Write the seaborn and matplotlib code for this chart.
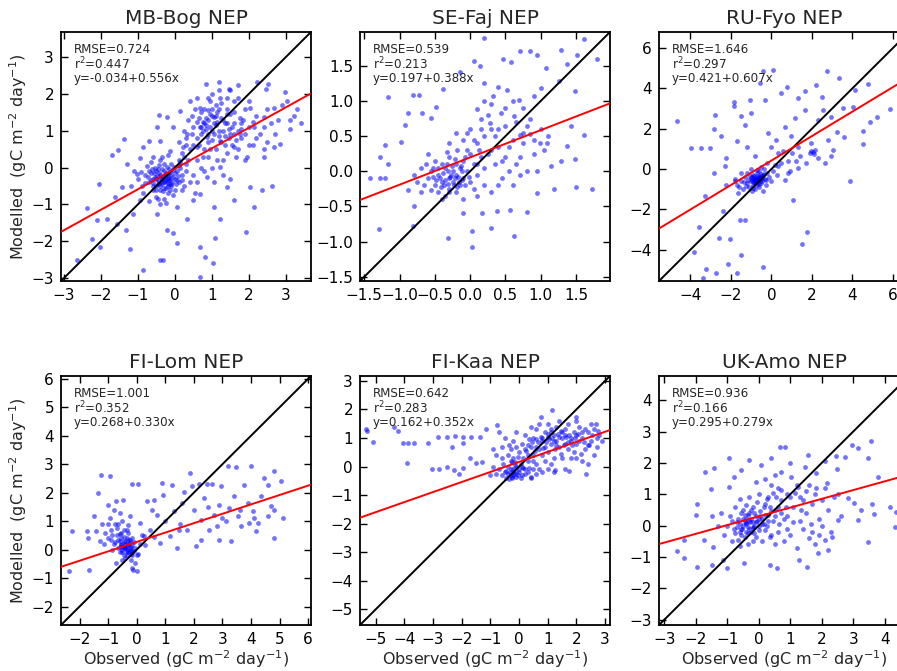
import matplotlib
matplotlib.use("Agg")
import matplotlib.pyplot as plt
from matplotlib.ticker import MultipleLocator
import seaborn as sns
import pandas as pd

# ---------------------------------------------------------------------------
# Daily NEP, observed vs modelled (gC m-2 day-1), one list of (obs, mod) per site
# ---------------------------------------------------------------------------
sites = ["MB-Bog", "SE-Faj", "RU-Fyo", "FI-Lom", "FI-Kaa", "UK-Amo"]

rmse = [0.724, 0.539, 1.646, 1.001, 0.642, 0.936]
r2 = [0.447, 0.213, 0.297, 0.352, 0.283, 0.166]
intercept = [-0.034, 0.197, 0.421, 0.268, 0.162, 0.295]
slope = [0.556, 0.388, 0.607, 0.330, 0.352, 0.279]

mb_bog_pts = [
    (-0.87, -2.77), (0.68, -2.98), (1.03, -2.6), (0.81, -2.42), (0.67, -2.15), (1.09, -1.91),
    (1.92, -1.75), (0.05, -2.04), (-0.4, -2.5), (-0.33, -2.5), (-2.65, -2.51), (-2.24, -1.93),
    (-2.02, -2.15), (-1.21, -2.2), (-1.57, -1.52), (-2.04, -0.46), (-1.7, 0.35), (-1.54, 0.49),
    (-2.38, -1.09), (-1.84, -1.39), (-1.32, -1.7), (-1.12, -1.25), (-1.37, 0.77), (-0.85, 0.55),
    (-0.43, 1.43), (-0.49, 1.09), (-0.71, 0.73), (-1.03, -0.17), (-1.43, -0.53), (-1.61, -0.8),
    (-2.1, -1.43), (-0.94, -0.89), (-0.49, -1.25), (-0.22, -1.7), (-0.04, -1.79), (0.32, -1.39),
    (0.05, -1.07), (0.5, -0.89), (0.68, -0.71), (1.05, -1.07), (1.23, -1.39), (1.59, -0.89),
    (2.04, -0.53), (2.35, -0.62), (2.62, -0.49), (2.13, -1.07), (1.41, -0.53), (0.86, -0.26),
    (1.23, 0.01), (0.84, 2.26), (1.18, 2.31), (1.46, 2.13), (1.7, 2.23), (2.23, 2.33),
    (2.53, 2.26), (2.46, 2.13), (2.98, 2.04), (3.03, 1.81), (3.21, 1.41), (3.1, 1.05),
    (2.85, 0.64), (2.67, 0.55), (2.4, 0.28), (1.95, 0.28), (1.59, 0.55), (1.77, 0.91),
    (2.13, 1.09), (2.4, 1.36), (2.67, 1.63), (2.04, 1.63), (1.59, 1.81), (1.23, 1.9),
    (0.95, 1.81), (0.68, 1.63), (0.41, 1.81), (0.14, 1.54), (-0.22, 1.36), (-0.04, 1.09),
    (0.32, 0.91), (0.68, 1.09), (1.05, 1.36), (1.41, 1.45), (0.86, 0.82), (1.23, 0.73),
    (0.59, 0.55), (0.23, 0.55), (-0.13, 0.46), (-0.4, 0.73),
    (-0.6, -0.3), (-0.5, -0.5), (-0.4, -0.2), (-0.3, -0.4), (-0.2, -0.3), (-0.1, -0.2),
    (-0.3, -0.1), (-0.5, -0.1), (-0.7, -0.4), (-0.4, -0.6), (-0.2, -0.5), (0.0, -0.3),
    (-0.1, -0.5), (-0.6, -0.6), (-0.8, -0.2), (-0.35, -0.3), (-0.25, -0.15), (-0.45, -0.35),
    (-0.15, -0.05), (0.05, -0.1), (-0.55, 0.0), (-0.3, 0.1), (-0.65, -0.15), (-0.2, -0.7),
    (0.1, -0.4), (-0.9, -0.5), (-0.4, 0.2), (-0.1, 0.1), (0.15, 0.0), (-0.75, 0.05),
    (-0.5, -0.8), (0.0, -0.6), (-0.35, -0.45), (-0.25, -0.55), (-0.15, -0.35), (-0.55, -0.25),
    (-0.45, -0.05), (-0.05, -0.25), (0.2, -0.2), (-0.85, -0.7), (-1.0, -0.3), (-0.3, -0.85),
    (0.1, 0.2), (-0.6, 0.3), (-0.2, 0.35), (0.3, -0.1), (-0.7, -0.9), (0.25, 0.3),
    (-1.1, -0.1), (-0.4, -1.0), (-0.32, -0.22), (-0.42, -0.42), (-0.22, -0.42), (-0.12, -0.12),
    (-0.38, -0.28), (-0.28, -0.35), (-0.18, -0.25), (-0.48, -0.22), (-0.58, -0.42), (-0.08, -0.38),
    (0.02, -0.45), (-0.62, -0.05), (-0.72, -0.25), (-0.52, -0.62), (-0.32, -0.65), (-0.12, -0.62),
    (0.08, -0.22), (-0.02, 0.02), (-0.22, 0.02), (-0.42, 0.08), (-0.82, -0.42), (-0.92, -0.12),
    (0.18, -0.35), (0.12, 0.08), (-0.35, 0.3), (-0.65, 0.15), (-0.05, -0.75), (-0.45, -0.85),
    (-0.25, -0.95), (0.25, -0.5), (-1.2, -0.5), (-1.3, 0.1), (-0.95, 0.25), (0.35, 0.2),
    (-0.36, -0.38), (-0.26, -0.26), (-0.16, -0.44), (-0.46, -0.46), (-0.56, -0.16), (-0.06, -0.06),
    (-0.34, -0.04), (-0.14, -0.3), (-0.44, -0.14), (-0.24, -0.36), (-0.64, -0.34), (0.06, -0.34),
    (-0.3, -0.55), (-0.5, -0.3), (-0.2, -0.2), (-0.4, -0.5), (-0.1, -0.45), (0.0, -0.15),
    (-0.6, -0.5), (-0.7, -0.1),
    (0.4, 0.5), (0.6, 0.8), (0.8, 1.2), (1.0, 1.4), (1.2, 1.0), (0.9, 0.7), (0.7, 1.5),
    (1.1, 1.7), (1.3, 1.3), (1.5, 0.9), (1.4, 1.6), (1.6, 1.2), (1.8, 0.8), (2.0, 1.1),
    (1.7, 1.9), (0.5, 1.1), (0.3, 0.8), (0.2, 0.4), (0.6, 0.2), (0.9, 0.3), (1.1, 0.5),
    (1.3, 0.2), (0.5, -0.2), (0.8, -0.1), (1.0, 0.0), (1.4, 0.4), (1.7, 0.5), (2.1, 0.6),
    (2.3, 0.9), (2.2, 1.4), (1.9, 1.6), (0.9, 1.9), (1.2, 2.1), (0.75, 1.0), (0.85, 1.35),
    (0.95, 1.1), (1.05, 0.9), (1.15, 1.25), (0.65, 0.6), (0.45, 0.9), (0.35, 1.3), (0.25, 1.0),
    (0.1, 0.7), (1.25, 0.7), (1.45, 1.05), (1.55, 0.6), (1.65, 0.3), (1.85, 1.3), (2.4, 0.5),
    (2.6, 1.2), (2.7, 0.9), (0.55, 1.6), (1.0, 1.6), (0.8, 0.5), (0.7, 0.0), (1.3, -0.2),
    (1.9, 0.2), (0.3, 0.1), (0.15, 0.15), (0.4, -0.4), (2.0, 1.8), (1.5, 1.45), (1.1, 1.15),
    (0.9, 0.9), (0.6, 1.25), (1.35, 0.85), (2.5, 1.6), (3.1, 1.3), (0.2, -0.6), (0.55, -0.7),
    (0.5, 0.6), (0.7, 0.9), (0.9, 1.3), (1.0, 1.0), (1.1, 1.4), (1.2, 1.6), (1.3, 1.0),
    (1.4, 1.2), (1.6, 1.5), (1.7, 1.0), (1.8, 1.2), (1.9, 0.9), (2.0, 0.6), (2.2, 0.8),
    (2.4, 1.1), (2.5, 0.7), (2.8, 1.3), (2.9, 1.7), (3.3, 1.6), (3.4, 1.2), (0.8, 1.6),
    (0.6, 1.9), (1.0, 2.0), (1.4, 1.9), (1.5, 2.1), (0.75, 0.3), (0.95, 0.5), (1.15, 0.2),
    (1.35, 0.6), (1.6, 0.9), (1.05, -0.4), (1.5, -0.3), (0.6, -0.4), (0.3, 0.6), (0.45, 1.4),
    (1.25, 1.75), (0.85, 1.05), (0.65, 1.35), (1.75, 1.35), (2.1, 1.25),
    (0.85, 1.15), (0.95, 1.45), (1.05, 1.2), (1.15, 1.5), (0.75, 1.25), (1.25, 1.35),
    (0.9, 1.55), (1.35, 1.2), (1.45, 0.8), (1.55, 1.1), (0.7, 1.1), (1.0, 0.75), (1.2, 0.85),
    (1.65, 0.75), (1.8, 1.05),
]

se_faj_pts = [
    (0.2, 1.89), (0.71, 1.71), (0.85, 1.71), (1.28, 1.72), (1.51, 1.66), (1.61, 1.88),
    (1.8, 1.6), (0.05, 1.57), (0.46, 1.59), (0.58, 1.55), (0.95, 1.65), (1.07, 1.47),
    (1.37, 1.52), (-0.14, 1.41), (0.14, 1.49), (-0.38, 1.17), (-1.16, 1.06), (-0.81, 1.08),
    (-0.73, 1.08), (-0.88, 0.83), (-0.68, 0.83), (-0.55, 0.76), (-0.92, 0.66), (-0.49, 0.92),
    (-1.2, 0.37), (-0.98, 0.42), (-1.28, 0.21), (-1.17, 0.1), (-1.42, -0.09), (-1.27, -0.09),
    (-1.21, -0.1), (-0.88, -0.26), (-0.8, -0.49), (-0.81, -0.78), (-1.29, -0.82), (-0.32, -0.95),
    (0.03, -1.08), (0.02, -0.85), (-0.1, -0.59), (0.17, -0.59), (0.3, -0.81), (0.38, -0.57),
    (0.62, -0.92), (0.57, -0.55), (0.8, -0.58), (0.94, -0.31), (1.18, -0.25), (1.5, -0.22),
    (1.73, -0.25), (1.61, 0.52), (1.37, 0.36), (1.48, 0.18), (1.28, 0.14), (1.15, 0.07),
    (1.43, 0.64), (1.09, 0.4), (0.99, 0.4), (0.85, 0.53), (0.71, 0.52), (0.9, 1.07),
    (1.0, 1.18), (1.26, 1.28), (1.48, 1.14), (0.69, 1.02), (0.52, 1.16), (0.33, 1.07),
    (0.19, 1.26), (0.43, 0.83), (0.62, 0.78), (0.28, 0.69), (0.09, 0.88),
    (-0.3, -0.1), (-0.2, -0.05), (-0.4, -0.15), (-0.1, -0.1), (-0.25, 0.0), (-0.35, 0.05),
    (-0.45, -0.05), (-0.15, -0.2), (-0.5, -0.2), (-0.3, -0.25), (-0.05, 0.0), (0.0, -0.15),
    (-0.2, 0.1), (-0.4, 0.1), (-0.55, 0.0), (-0.6, -0.1), (-0.1, 0.15), (0.05, 0.1),
    (-0.3, 0.2), (-0.45, -0.3), (-0.2, -0.3), (-0.65, -0.2), (0.1, -0.05), (-0.35, -0.35),
    (-0.25, -0.15), (-0.15, 0.05), (-0.5, 0.15), (0.15, 0.2), (-0.7, 0.05), (0.0, 0.25),
    (-0.28, -0.08), (-0.38, -0.02), (-0.12, -0.12), (-0.22, 0.18), (-0.48, -0.12), (0.05, -0.25),
    (-0.6, 0.25), (-0.75, -0.15), (-0.05, 0.3), (0.2, 0.05), (-0.32, -0.18), (-0.18, -0.22),
    (-0.42, -0.22), (-0.32, 0.0), (-0.22, -0.1), (-0.12, 0.0), (-0.02, -0.08), (-0.52, -0.08),
    (-0.36, -0.12), (-0.26, 0.08), (-0.16, -0.15), (-0.46, 0.05), (-0.56, -0.26), (-0.4, -0.4),
    (-0.08, 0.2), (0.1, 0.1), (-0.33, 0.28), (-0.62, 0.1), (0.12, 0.3), (-0.18, 0.3),
    (-0.8, -0.05), (-0.7, -0.3),
    (-0.27, -0.05), (-0.37, -0.2), (-0.17, -0.08), (-0.23, -0.2), (-0.43, -0.1), (-0.33, 0.1),
    (-0.13, 0.08), (-0.07, -0.2), (-0.53, 0.05), (-0.3, -0.3),
    (0.1, 0.4), (0.2, 0.5), (0.3, 0.3), (0.4, 0.6), (0.5, 0.2), (0.6, 0.45), (0.25, 0.8),
    (0.0, 0.6), (-0.1, 0.45), (0.35, 0.1), (0.45, -0.1), (0.55, 0.0), (0.7, 0.2), (0.8, 0.0),
    (0.65, 0.7), (0.3, 0.95), (0.15, 0.75), (-0.2, 0.55), (0.4, 0.35), (0.75, 0.55),
    (0.9, 0.25), (1.0, 0.6), (0.2, -0.2), (0.3, -0.3), (0.1, -0.35), (-0.1, -0.4), (0.6, -0.2),
    (1.05, 0.3), (0.85, 0.75), (-0.3, 0.4), (0.5, 0.9), (0.05, 0.45),
    (0.25, 0.25), (0.35, 0.5), (0.45, 0.15), (0.55, 0.35), (0.65, 0.1), (0.75, 0.4),
    (0.15, 0.6), (0.3, 0.6), (0.5, 0.65), (0.8, 0.65), (0.9, 0.45), (1.1, 0.5), (0.95, 0.0),
    (0.4, -0.2), (0.7, -0.05), (-0.05, 0.55), (0.6, 1.0), (0.4, 1.2), (0.2, 1.0), (0.75, 0.9),
]

ru_fyo_pts = [
    (-4.67, 2.39), (-3.96, 1.07), (-3.47, 1.07), (-3.05, 1.07), (-2.77, 2.69), (-2.81, 1.98),
    (-1.86, 3.35), (-1.86, 3.14), (-2.5, 1.62), (-3.3, -1.35), (-3.58, -2.89), (-3.8, -4.11),
    (-3.22, -4.95), (-3.38, -5.4), (-2.72, -5.15), (-2.59, -3.42), (-2.39, -2.1), (-2.03, -3.47),
    (-2.15, -4.7), (-1.68, -5.15), (-1.53, -2.51), (-1.32, -2.51), (-1.52, -4.24), (-0.4, -4.85),
    (1.07, -1.52), (1.78, -3.12), (1.49, -3.71), (3.88, -0.58), (2.77, 4.88), (3.33, 4.54),
    (4.13, 3.93), (4.79, 4.22), (5.84, 2.97), (5.2, 2.6), (4.87, 2.36), (4.54, 1.24),
    (4.54, 1.9), (4.04, 3.1), (3.55, 3.02), (3.6, 1.57), (3.22, 1.86), (2.97, 2.6),
    (2.56, 2.94), (2.48, 3.6), (2.23, 4.17), (1.65, 3.85), (1.32, 3.51), (0.78, 4.06),
    (0.5, 3.76), (0.08, 4.92), (-0.41, 4.88), (-0.58, 4.26), (-0.33, 3.43), (-1.07, 3.43),
    (-0.99, 2.77), (-1.49, 2.61), (-1.32, 2.19), (-1.68, 1.37), (-1.2, 1.12), (-0.83, 0.63),
    (-2.23, 0.54), (-2.31, 0.13), (-2.81, -0.2), (-2.26, -0.78), (-1.82, -0.61), (-1.65, -1.19),
    (2.97, 0.63), (2.64, 0.3), (2.15, 0.96), (1.9, 0.79), (2.31, 0.54), (3.05, 0.96),
    (1.98, 1.29), (1.4, 0.63), (0.99, 1.62), (0.66, 2.11), (0.25, 1.45), (-0.17, 1.78),
    (1.16, 2.52), (1.65, 2.94), (0.33, 0.13), (0.83, -0.2), (1.32, 0.05), (0.66, -0.53),
    (0.0, -0.61), (0.33, 0.79), (0.0, 1.12), (1.32, 1.12), (2.31, 2.44), (2.8, 1.45),
    (1.73, 0.3), (2.05, 0.85), (2.1, 0.75), (1.95, 0.9),
    (-0.8, -0.5), (-0.6, -0.4), (-1.0, -0.6), (-0.5, -0.7), (-0.9, -0.3), (-0.7, -0.8),
    (-1.2, -0.7), (-0.4, -0.3), (-0.3, -0.5), (-1.1, -0.9), (-0.6, -0.1), (-0.8, -1.0),
    (-1.3, -0.4), (-0.2, -0.2), (-0.5, 0.1), (-1.4, -1.0), (-0.9, -0.8), (-0.75, -0.6),
    (-0.65, -0.55), (-0.85, -0.45), (-0.55, -0.35), (-1.05, -0.35), (-0.45, -0.6), (-0.95, -1.1),
    (-1.5, -0.6), (-0.1, -0.4), (-0.35, 0.0), (-1.2, -0.2), (-0.7, -0.2), (-1.6, -0.9),
    (-0.6, -0.9), (0.1, -0.1), (-0.25, -0.8), (-1.0, 0.0), (-1.8, -0.5), (-0.4, -1.1),
    (-0.95, -0.55), (-0.7, -0.35), (-0.5, -0.5), (-0.8, -0.7),
    (-0.85, -0.6), (-0.65, -0.45), (-0.75, -0.5), (-0.55, -0.6), (-0.95, -0.4), (-1.15, -0.55),
    (-0.45, -0.45), (-0.35, -0.25), (-1.25, -0.85), (-0.6, -0.75), (-0.9, -0.95), (-1.35, -0.65),
    (-0.25, -0.55), (-0.5, -0.25), (-0.7, -0.05), (0.2, 0.2), (0.5, 0.3), (0.3, -0.3),
    (0.8, 0.4), (0.6, 0.9), (1.0, 0.8), (1.2, 0.4), (0.9, -0.1), (-0.2, 0.3), (-1.5, -0.2),
    (-1.7, -0.8),
    (-0.7, -0.45), (-0.8, -0.55), (-0.6, -0.5), (-0.9, -0.65), (-0.75, -0.7), (-1.0, -0.45),
    (-0.55, -0.45), (-0.65, -0.65), (-0.85, -0.35), (-0.45, -0.35),
]

fi_lom_pts = [
    (-2.27, 0.64), (-2.38, -0.76), (-1.68, -0.7), (-1.24, 2.61), (-0.94, 2.57), (-1.34, 1.99),
    (-1.51, 1.17), (-1.73, 0.64), (-1.71, 0.41), (-1.44, 0.64), (-1.0, 1.58), (-0.71, 1.7),
    (-0.47, 1.75), (-0.18, 2.3), (0.06, 2.3), (0.35, 1.7), (0.88, 2.34), (1.22, 2.26),
    (0.92, 1.93), (0.59, 1.75), (0.53, 1.4), (0.71, 1.23), (1.0, 0.99), (1.29, 1.35),
    (1.59, 1.64), (1.65, 2.01), (1.85, 2.69), (1.94, 2.22), (2.18, 2.32), (2.47, 2.32),
    (2.65, 2.32), (2.94, 2.22), (3.18, 2.92), (3.49, 2.9), (4.0, 2.95), (4.47, 2.51),
    (4.8, 2.75), (4.59, 2.28), (5.06, 2.4), (3.76, 2.28), (3.41, 1.87), (3.24, 1.46),
    (2.88, 1.58), (2.71, 1.23), (2.53, 0.7), (2.24, 1.05), (2.0, 1.4), (2.35, 1.81),
    (1.76, 0.7), (1.47, 0.7), (1.18, 0.47), (0.82, 0.23), (1.41, 0.06), (2.24, 0.35),
    (2.88, 0.35), (3.29, 0.29), (3.65, 0.82), (3.94, 0.94), (4.18, 0.64), (4.24, 0.94),
    (4.59, 1.17), (4.82, 1.4), (5.12, 1.11), (4.82, 0.41), (4.06, 1.35), (3.53, 1.17),
    (3.88, 1.64), (4.35, 1.87), (4.71, 1.52), (3.12, 0.99), (2.82, 0.82), (2.06, 0.12),
    (0.24, 0.47), (0.47, 0.7), (0.12, 0.94), (-0.24, 1.17), (-0.35, 0.7), (-0.06, -0.47),
    (-0.18, -0.64), (-0.12, -0.7), (0.0, -0.76), (-0.53, -0.35), (-0.71, -0.47),
    (-0.5, 0.0), (-0.4, 0.2), (-0.3, -0.1), (-0.6, 0.3), (-0.2, 0.1), (-0.7, 0.5),
    (-0.8, 0.2), (-0.35, 0.4), (-0.45, -0.2), (-0.1, -0.05), (-0.55, 0.6), (-0.9, 0.7),
    (-1.0, 0.4), (-0.65, 0.05), (-0.25, 0.25), (-0.15, -0.2), (-0.05, 0.05), (-0.75, 0.9),
    (-0.5, 1.0), (-1.1, 0.6), (-0.3, 0.6), (-0.6, -0.1), (-0.4, -0.3), (-0.2, -0.35),
    (0.0, -0.2), (-0.85, 0.0), (-0.95, 1.1), (-1.2, 0.9), (-0.45, 0.45), (-0.35, 0.1),
    (-0.55, 0.15), (-0.25, -0.05), (-0.7, 0.75), (0.1, 0.2), (-0.6, 1.3), (-1.3, 0.3),
    (-0.3, 0.85), (-0.8, 1.4), (-0.15, 0.4), (0.05, -0.15), (-0.42, 0.05), (-0.32, 0.15),
    (-0.45, 0.1), (-0.35, 0.0), (-0.25, 0.05), (-0.55, 0.2), (-0.65, 0.35), (-0.15, 0.15),
    (-0.4, 0.3), (-0.3, 0.35), (-0.5, -0.1), (-0.2, -0.15), (-0.1, 0.25), (-0.75, 0.25),
    (-0.6, 0.55), (-0.85, 0.5), (-0.45, 0.7), (-0.65, 0.9), (-1.0, 0.9), (-1.15, 0.2),
    (-0.9, 0.35), (-0.35, -0.2), (0.2, 0.5), (0.3, 0.15), (0.6, 0.45), (1.5, 0.9),
    (2.5, 1.5), (3.0, 1.1), (3.6, 1.4), (4.1, 1.1),
    (-0.4, 0.05), (-0.3, 0.2), (-0.5, 0.1), (-0.2, 0.0), (-0.35, -0.1), (-0.45, 0.25),
    (-0.25, 0.35), (-0.55, 0.4), (-0.15, -0.1), (-0.6, 0.1),
]

fi_kaa_pts = [
    (-5.34, 1.32), (-5.32, 1.26), (-5.1, 0.85), (-4.36, 1.4), (-4.21, 1.25), (-4.06, 0.82),
    (-3.86, 0.82), (-3.68, 0.82), (-3.92, 0.12), (-3.19, 0.84), (-3.05, -0.09), (-2.81, -0.09),
    (-2.83, 1.05), (-2.53, 1.05), (-2.51, 0.0), (-2.33, 0.7), (-2.23, 1.07), (-1.97, 0.82),
    (-1.95, 1.03), (-2.27, -0.12), (-2.09, -0.26), (-1.97, -0.06), (-1.67, 1.03), (-1.37, 1.05),
    (-1.73, 0.29), (-1.49, 0.12), (-1.31, 0.17), (-1.14, 1.31), (-0.78, 1.46), (1.16, 1.98),
    (0.78, 1.72), (1.97, 1.72), (2.69, 1.48), (2.39, 0.76), (2.33, -0.26), (1.73, -0.17),
    (1.25, -0.12), (0.42, -0.41),
    (-0.5, -0.2), (-0.3, -0.3), (-0.2, -0.1), (-0.4, 0.0), (-0.1, -0.35), (0.0, -0.2),
    (-0.6, -0.3), (-0.7, -0.1), (-0.35, -0.45), (-0.15, 0.05), (0.1, -0.3), (0.2, -0.1),
    (-0.8, -0.25), (-0.55, 0.1), (-0.25, 0.15), (0.05, 0.1), (0.3, -0.2), (-0.45, -0.4),
    (-0.9, 0.0), (-1.0, -0.3), (0.4, -0.35), (0.5, -0.1), (0.6, -0.25), (0.8, -0.2),
    (1.0, -0.1), (1.2, -0.2), (-0.32, -0.18), (-0.22, -0.28), (-0.12, -0.18),
    (-0.3, -0.1), (-0.2, -0.2), (-0.1, 0.0), (0.0, -0.1), (-0.4, -0.25), (0.1, 0.0),
    (-0.05, -0.3), (-0.25, -0.35), (0.2, -0.25), (-0.15, 0.15),
    (-0.8, 0.4), (-0.6, 0.7), (-0.5, 1.0), (-0.3, 0.6), (-0.2, 0.9), (-0.1, 1.2),
    (0.0, 0.5), (0.1, 0.8), (0.2, 1.1), (0.3, 0.4), (0.4, 0.7), (0.5, 1.0), (0.6, 1.3),
    (0.7, 0.6), (0.8, 0.9), (0.9, 1.2), (1.0, 0.5), (1.1, 0.8), (1.2, 1.1), (1.3, 1.4),
    (1.4, 0.7), (1.5, 1.0), (1.6, 1.3), (1.7, 0.6), (1.8, 0.9), (1.9, 1.2), (2.0, 0.8),
    (2.1, 1.4), (2.2, 1.0), (2.3, 0.6), (2.4, 1.2), (2.5, 0.9), (2.6, 1.3), (2.7, 0.7),
    (2.8, 1.1), (1.5, 0.3), (1.8, 0.3), (2.2, 0.2), (2.6, 0.4), (1.2, 0.3), (0.9, 0.2),
    (0.6, 0.1), (0.3, 0.2), (-0.2, 0.3), (-0.9, 0.6), (-0.7, 1.2), (0.4, 1.4), (0.7, 1.5),
    (1.0, 1.5), (1.4, 1.6), (1.7, 1.5), (2.0, 1.6), (2.5, 1.5), (1.1, 1.3), (0.2, 0.6),
    (0.5, 0.4), (0.8, 0.4), (1.3, 0.9), (1.6, 0.8), (1.9, 0.5), (2.3, 1.3), (2.7, 1.0),
    (1.05, 0.95), (1.45, 1.25), (0.35, 0.95), (0.65, 0.85), (-0.4, 0.4), (-0.1, 0.7),
    (1.75, 1.1), (2.15, 0.45),
    (0.15, 0.3), (0.25, 0.55), (0.45, 0.85), (0.55, 0.55), (0.75, 1.05), (0.85, 0.65),
    (0.95, 0.85), (1.15, 1.0), (1.25, 0.6), (1.35, 1.15), (1.55, 0.75), (1.65, 1.05),
    (1.85, 0.75), (1.95, 1.0), (2.05, 1.15), (2.25, 0.85), (2.45, 0.75), (2.55, 1.1),
    (2.75, 1.25), (2.9, 0.9), (1.0, 1.15), (0.6, 0.95), (0.3, 0.75), (-0.05, 0.35),
    (-0.3, 0.2), (-0.45, -0.15), (-0.15, -0.25), (0.15, -0.05), (0.35, -0.05), (0.7, -0.1),
    (1.6, -0.1), (2.0, 0.3), (2.4, 0.1), (-0.6, 0.3), (-0.35, 0.75), (1.1, 0.1), (1.45, 0.45),
    (0.5, 0.2), (-0.25, -0.4), (0.05, -0.4),
    (0.8, 1.0), (1.0, 1.05), (1.2, 0.9), (1.4, 1.05), (1.6, 1.1), (1.8, 1.0), (2.0, 1.1),
    (2.2, 1.2), (0.9, 0.7), (1.3, 0.75), (1.7, 0.85), (2.1, 0.9), (0.6, 0.7), (1.5, 1.2),
    (1.1, 1.2),
]

uk_amo_pts = [
    (-1.97, 0.7), (-1.97, -1.31), (-2.39, -1.04), (-2.59, -0.81), (-2.39, -0.46), (-2.0, 0.34),
    (-1.7, 1.72), (-1.41, 1.85), (-0.96, 2.15), (-1.52, 1.17), (-1.01, -1.34), (-1.15, -1.1),
    (-1.5, -1.26), (-1.73, -0.46), (-1.47, -0.67), (-0.46, -1.2), (0.34, -1.26), (0.59, -1.34),
    (1.53, -1.33), (1.27, -1.1), (1.88, -0.86), (2.2, -0.78), (2.31, -0.35), (2.1, -0.46),
    (2.52, 0.18), (2.82, 0.87), (3.01, 0.73), (3.16, 0.18), (3.23, 0.5), (3.61, 0.69),
    (3.67, 0.36), (3.46, -0.52), (4.17, 0.59), (4.33, -0.03), (4.35, 0.44), (3.78, 1.56),
    (3.56, 2.71), (3.48, 2.17), (3.16, 2.47), (2.95, 2.57), (2.73, 2.2), (2.44, 2.23),
    (2.1, 2.07), (2.47, 1.8), (2.18, 1.35), (1.83, 1.19), (1.83, 1.67), (1.46, 1.88),
    (1.56, 2.26), (0.82, 2.5), (0.66, 2.5), (0.39, 2.15), (0.07, 1.94), (-0.3, 2.1),
    (-0.56, 1.78), (-0.78, 1.56), (-0.94, 1.24), (0.5, 1.62), (1.03, 1.56), (1.24, 1.24),
    (0.71, 1.14),
    (-0.5, 0.0), (-0.3, -0.1), (-0.4, 0.2), (-0.2, 0.1), (-0.6, -0.2), (-0.1, 0.3),
    (0.0, 0.0), (-0.35, 0.35), (-0.7, 0.1), (-0.45, -0.35), (-0.15, -0.25), (0.1, 0.2),
    (-0.25, 0.5), (0.05, 0.45), (-0.55, 0.4), (-0.8, -0.1), (-0.9, 0.3), (-0.65, -0.45),
    (0.2, -0.15), (0.15, 0.6), (-0.05, 0.75), (-0.4, 0.65), (-1.0, 0.0), (-1.1, -0.3),
    (-0.75, 0.6), (0.3, 0.35), (-0.2, -0.5), (0.25, 0.0), (-0.3, 0.9), (0.0, 1.0),
    (-0.6, 0.85), (-1.2, 0.4), (-0.85, -0.5), (0.4, -0.3), (-0.35, -0.6), (0.1, -0.5),
    (-0.42, 0.08), (-0.28, 0.12), (-0.52, -0.12), (-0.18, -0.08),
    (-0.45, 0.1), (-0.35, -0.05), (-0.25, 0.2), (-0.15, 0.0), (-0.05, 0.15), (-0.55, -0.1),
    (-0.65, 0.2), (-0.4, -0.2), (-0.3, 0.4), (0.05, 0.3), (0.15, 0.05), (-0.2, 0.6),
    (-0.5, 0.5), (-0.75, -0.25), (-0.85, 0.15), (0.35, 0.6), (0.25, 0.85), (0.45, 0.15),
    (-0.1, -0.35), (0.0, -0.15), (0.55, 0.9), (0.7, 0.4), (0.85, 0.6), (1.0, 0.9),
    (1.15, 1.05), (0.45, 1.05), (0.65, 0.05), (0.9, -0.1), (1.4, 0.8), (1.6, 1.3),
    (1.3, 0.15), (0.35, -0.35), (-0.6, -0.65), (-1.3, 0.0), (-1.5, 0.3), (2.0, 0.8),
    (2.5, 1.0), (1.7, -0.2),
    (-0.4, 0.05), (-0.3, 0.15), (-0.2, -0.05), (-0.5, 0.2), (-0.6, 0.05), (-0.1, 0.1),
    (-0.35, -0.25), (-0.45, 0.35), (0.0, 0.2), (-0.25, -0.2), (-0.7, -0.05), (-0.15, 0.4),
    (0.1, 0.05), (0.2, 0.35), (-0.55, -0.3), (0.3, 0.15), (0.5, 0.3), (0.6, 0.6),
    (0.4, 0.45), (0.2, 0.7),
    (0.5, 0.5), (0.7, 0.8), (0.9, 0.3), (1.1, 0.6), (1.3, 0.9), (1.5, 0.4), (1.7, 0.7),
    (1.9, 0.2), (0.6, -0.2), (0.8, -0.5), (1.0, -0.3), (1.2, -0.7), (1.4, -0.1), (1.6, -0.4),
    (1.8, -0.6), (2.0, 0.0), (2.2, 0.5), (2.4, 0.9), (0.6, 1.2), (0.9, 1.0), (1.2, 1.3),
    (1.5, 1.1), (1.8, 1.0), (2.1, 1.2), (0.4, 1.3), (0.7, 1.7), (1.0, 2.0), (0.3, 0.9),
    (0.5, -0.6), (1.1, 0.1), (0.8, 0.2), (1.35, 0.5), (1.65, 0.05), (2.3, -0.2), (0.2, 1.5),
    (-0.1, 1.4), (1.9, -0.3), (2.6, 0.3),
]

site_points = [mb_bog_pts, se_faj_pts, ru_fyo_pts, fi_lom_pts, fi_kaa_pts, uk_amo_pts]

# shared axis range (x and y) and tick step for each panel
axis_range = [(-3.08, 3.68), (-1.56, 1.98), (-5.55, 6.8),
              (-2.65, 6.1), (-5.55, 3.17), (-3.17, 4.77)]
tick_step = [1, 0.5, 2, 1, 1, 1]

# ---------------------------------------------------------------------------
sns.set_style("ticks")
plt.rcParams.update({
    "font.family": ["DejaVu Sans"],
    "xtick.direction": "in", "ytick.direction": "in",
    "xtick.top": True, "ytick.right": True,
    "xtick.major.size": 5, "ytick.major.size": 5,
    "xtick.major.width": 1.0, "ytick.major.width": 1.0,
    "xtick.color": "black", "ytick.color": "black",
    "axes.edgecolor": "black", "axes.linewidth": 1.3,
})

W, H = 897, 671
fig = plt.figure(figsize=(W / 100, H / 100), dpi=100)

col_left = [61, 360, 659]
row_top = [32, 376]
ax_w, ax_h = 250, 249

for i, site in enumerate(sites):
    r, c = divmod(i, 3)
    left = col_left[c] / W
    bottom = 1 - (row_top[r] + ax_h) / H
    ax = fig.add_axes([left, bottom, ax_w / W, ax_h / H])

    df = pd.DataFrame(site_points[i], columns=["Observed", "Modelled"])
    sns.scatterplot(data=df, x="Observed", y="Modelled", ax=ax, color="blue",
                    alpha=0.55, s=12, linewidth=0, zorder=2)

    lo, hi = axis_range[i]
    ax.plot([lo, hi], [lo, hi], color="black", lw=1.4, zorder=3)
    ax.plot([lo, hi], [intercept[i] + slope[i] * lo, intercept[i] + slope[i] * hi],
            color="red", lw=1.4, zorder=4)
    ax.set_xlim(lo, hi)
    ax.set_ylim(lo, hi)
    ax.xaxis.set_major_locator(MultipleLocator(tick_step[i]))
    ax.yaxis.set_major_locator(MultipleLocator(tick_step[i]))
    ax.tick_params(labelsize=11, pad=5)

    ax.set_title(f"{site} NEP", fontsize=14.5, pad=6)
    ax.text(0.05, 0.955,
            f"RMSE={rmse[i]:.3f}\nr$^2$={r2[i]:.3f}\ny={intercept[i]:.3f}+{slope[i]:.3f}x",
            transform=ax.transAxes, ha="left", va="top", fontsize=8.6,
            linespacing=0.95, zorder=5)

    ax.set_xlabel("Observed (gC m$^{-2}$ day$^{-1}$)" if r == 1 else "",
                  fontsize=11.5, labelpad=1)
    ax.set_ylabel("Modelled  (gC m$^{-2}$ day$^{-1}$)" if c == 0 else "",
                  fontsize=11.5, labelpad=2)
    for side in ax.spines.values():
        side.set_visible(True)

fig.savefig("out.png", dpi=100)
